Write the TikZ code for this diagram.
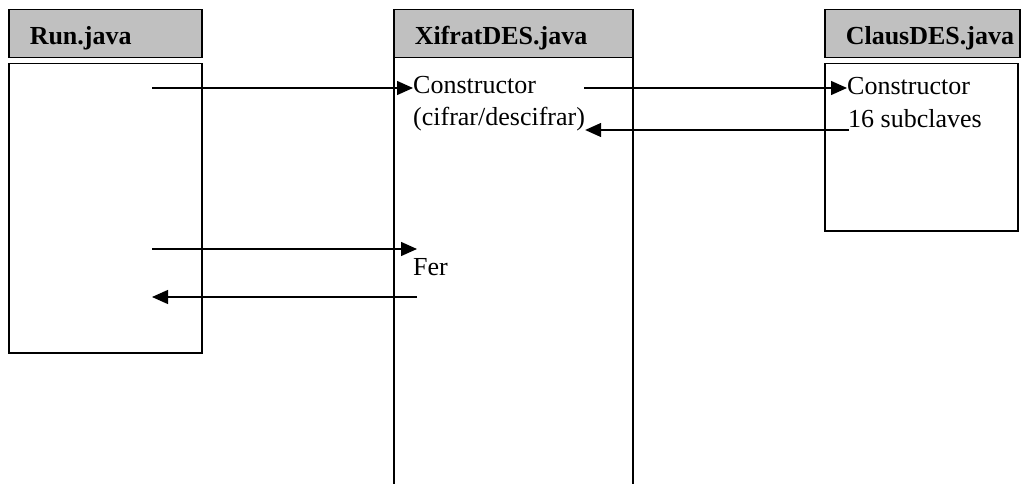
\documentclass[tikz,border=0pt]{standalone}
\usepackage{fontspec}
\setmainfont{Liberation Serif}
\usetikzlibrary{arrows.meta,positioning}
\definecolor{hdrgray}{RGB}{192,192,192}

\begin{document}
\begin{tikzpicture}[
  x=1pt, y=-1pt,
  font=\fontsize{26}{32}\selectfont,
  hdr/.style={draw, line width=1.5pt, fill=hdrgray, anchor=north west, minimum height=48pt,
    inner xsep=21pt, align=left, text height=22pt, text depth=0pt, font=\fontsize{26}{32}\selectfont\bfseries},
  body/.style={draw, line width=1.5pt, anchor=north west},
  txt/.style={anchor=base west, inner sep=0pt},
  arr/.style={-{Triangle[length=16pt, width=14pt]}, line width=1.3pt}]
\useasboundingbox (0,0) rectangle (1028,484);
% --- Run.java ---
\node[hdr, minimum width=193pt, text width=151pt] (runh) at (8,9) {Run.java};
\node[body, minimum width=193pt, minimum height=289pt] (runb) at (8,63) {};
% --- XifratDES.java ---
\node[hdr, minimum width=239pt, text width=197pt] (xifh) at (393,9) {XifratDES.java};
\node[body, minimum width=239pt, minimum height=450pt] (xifb) at (393,57) {};
\node[txt] (xcons) at (413,94) {Constructor};
\node[txt] (xcif) at (413,126) {(cifrar/descifrar)};
\node[txt] (xfer) at (413,275) {Fer};
% --- ClausDES.java ---
\node[hdr, minimum width=195pt, text width=153pt] (clah) at (824,9) {ClausDES.java};
\node[body, minimum width=193pt, minimum height=167pt] (clab) at (824,63) {};
\node[txt] (ccons) at (847,95) {Constructor};
\node[txt] (csub) at (848,128) {16 subclaves};
% --- calls ---
\coordinate (r1) at (152,88);
\coordinate (x1) at (584,88);
\coordinate (c1) at (849,130);
\coordinate (r2) at (152,249);
\coordinate (x2) at (417,297);
\draw[arr] (r1) -- (r1 -| xcons.west);
\draw[arr] (x1) -- (x1 -| ccons.west);
\draw[arr] (c1) -- (c1 -| xcif.east);
\draw[arr] (r2) -- (x2 |- r2);
\draw[arr] (x2) -- (r2 |- x2);
\end{tikzpicture}
\end{document}
